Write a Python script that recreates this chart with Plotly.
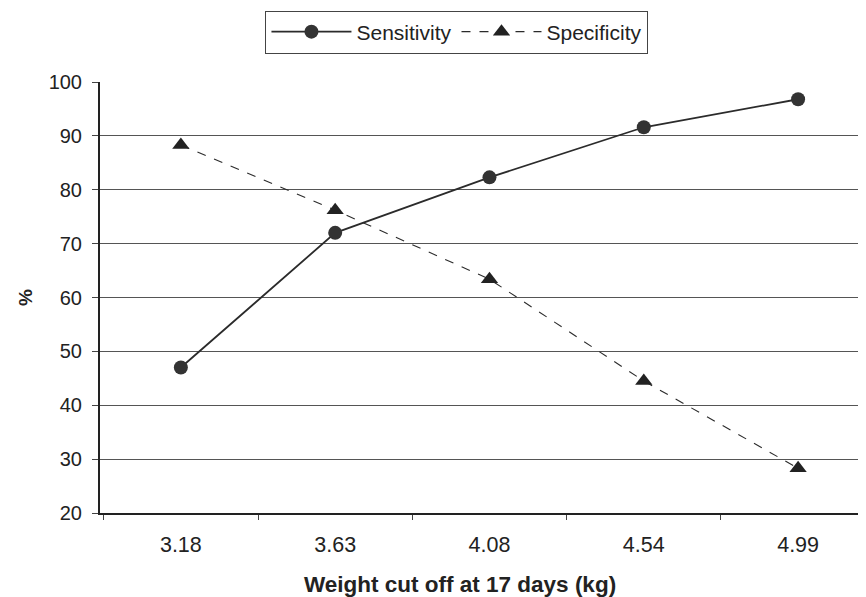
import plotly.graph_objects as go

categories = ["3.18", "3.63", "4.08", "4.54", "4.99"]
sensitivity = [47.0, 72.0, 82.3, 91.6, 96.8]
specificity = [88.3, 76.2, 63.4, 44.5, 28.3]
y_ticks = [20, 30, 40, 50, 60, 70, 80, 90, 100]

ink = "#2b2b2b"
font_family = "Liberation Sans, Arial, sans-serif"

fig = go.Figure()
fig.add_trace(go.Scatter(
    x=categories, y=sensitivity, name="Sensitivity",
    mode="lines+markers",
    line=dict(color=ink, width=1.8, dash="solid"),
    marker=dict(symbol="circle", size=14, color="#333333"),
))
fig.add_trace(go.Scatter(
    x=categories, y=specificity, name="Specificity",
    mode="lines+markers",
    line=dict(color=ink, width=1.1, dash="dash"),
    marker=dict(symbol="triangle-up", size=15, color="#222222"),
))

fig.update_layout(
    width=858, height=589,
    margin=dict(l=92, r=0, t=74, b=84, autoexpand=False),
    paper_bgcolor="white", plot_bgcolor="white",
    font=dict(family=font_family, size=20, color="#222222"),
    showlegend=True,
    legend=dict(
        orientation="h", x=0.466, xanchor="center", y=1.116, yanchor="middle",
        bordercolor="#444444", borderwidth=1, bgcolor="white",
        font=dict(size=21, color="#222222"),
        itemwidth=80,
    ),
    xaxis=dict(
        type="category", range=[-0.524, 4.44],
        tickson="boundaries", ticks="outside", ticklen=5, tickcolor="#444444",
        showgrid=False, showline=True, linecolor="#222222", linewidth=2,
        tickfont=dict(size=21.5), ticklabelstandoff=11,
        zeroline=False,
    ),
    yaxis=dict(
        range=[20, 100], tickvals=y_ticks,
        ticks="outside", ticklen=6, tickcolor="#444444",
        showgrid=True, gridcolor="#555555", gridwidth=1,
        showline=True, linecolor="#222222", linewidth=2,
        tickfont=dict(size=20), ticklabelstandoff=6,
        zeroline=False,
    ),
    annotations=[
        dict(
            text="<b>Weight cut off at 17 days (kg)</b>",
            xref="paper", yref="paper", x=0.47, y=-0.165, xanchor="center", yanchor="middle",
            showarrow=False, font=dict(size=22.5, color="#222222"),
        ),
        dict(
            text="<b>%</b>", textangle=-90,
            xref="paper", yref="paper", x=-0.098, y=0.501, xanchor="center", yanchor="middle",
            showarrow=False, font=dict(size=19, color="#222222"),
        ),
    ],
)

fig.write_html("out.html")
